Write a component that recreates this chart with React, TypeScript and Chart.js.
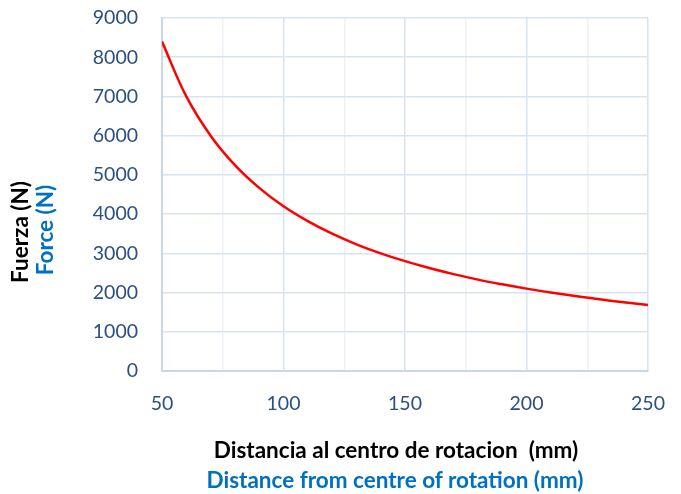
import React, { useEffect, useRef } from "react";
import { Chart, registerables } from "chart.js";

Chart.register(...registerables);

const distances = [50, 60, 70, 80, 90, 100, 110, 120, 130, 140, 150, 160, 170, 180, 190, 200, 210, 220, 230, 240, 250];
const forces = [8400, 7000, 6000, 5250, 4670, 4200, 3820, 3500, 3230, 3000, 2800, 2625, 2470, 2330, 2210, 2100, 2000, 1910, 1830, 1750, 1680];
const xTitleEs = "Distancia al centro de rotacion  (mm)";
const xTitleEn = "Distance from centre of rotation (mm)";
const yTitleEs = "Fuerza (N)";
const yTitleEn = "Force (N)";

const TICK_COLOR = "#2B4F81";
const GRID_COLOR = "#D9E4F2";
const MINOR_GRID_COLOR = "#EDF2F9";
const FONT = "Lato, 'Open Sans', sans-serif";

export default function App() {
  const ref = useRef<HTMLCanvasElement | null>(null);

  useEffect(() => {
    document.body.style.margin = "0";
    const ctx = ref.current!;
    const chart = new Chart(ctx, {
      type: "line",
      data: {
        datasets: [
          {
            data: distances.map((d, i) => ({ x: d, y: forces[i] })),
            borderColor: "#FF0000",
            borderWidth: 2.5,
            pointRadius: 0,
            tension: 0.4,
            fill: false,
          },
        ],
      },
      options: {
        animation: false,
        responsive: false,
        maintainAspectRatio: false,
        layout: { padding: { left: 0, top: 18, right: 33, bottom: 0 } },
        plugins: { legend: { display: false }, tooltip: { enabled: false } },
        scales: {
          x: {
            type: "linear",
            min: 50,
            max: 250,
            afterFit: (s: any) => {
              s.height = 123;
              s.paddingLeft = 0;
              s.paddingRight = 0;
            },
            ticks: {
              stepSize: 25,
              padding: 21,
              color: TICK_COLOR,
              font: { family: FONT, size: 19.5 },
              maxRotation: 0,
              autoSkip: false,
              callback: (v: any) => (Number(v) % 50 === 0 ? String(v) : ""),
            },
            grid: {
              color: (c: any) => (c.tick && c.tick.value % 50 !== 0 ? MINOR_GRID_COLOR : GRID_COLOR),
              lineWidth: 1.5,
              drawTicks: false,
            },
            border: { color: "#C8D7EB", width: 2 },
          },
          y: {
            min: 0,
            max: 9000,
            afterFit: (s: any) => {
              s.width = 162;
              s.paddingTop = 0;
              s.paddingBottom = 0;
            },
            ticks: {
              stepSize: 1000,
              padding: 24,
              color: TICK_COLOR,
              font: { family: FONT, size: 19.5 },
              callback: (v: any) => String(v),
            },
            grid: { color: GRID_COLOR, lineWidth: 1.5, drawTicks: false },
            border: { color: "#C8D7EB", width: 2 },
          },
        },
      },
    });
    return () => chart.destroy();
  }, []);

  const titleFont: React.CSSProperties = {
    fontFamily: FONT,
    fontWeight: 700,
    fontSize: 22.5,
    whiteSpace: "pre",
    position: "absolute",
    lineHeight: "28px",
  };

  return (
    <div style={{ position: "fixed", left: 0, top: 0, width: 681, height: 494, background: "#fff" }}>
      <canvas ref={ref} width={681} height={494} style={{ position: "absolute", left: 0, top: 0 }} />
      <div style={{ ...titleFont, left: 0, width: 792, textAlign: "center", top: 436, color: "#000" }}>{xTitleEs}</div>
      <div style={{ ...titleFont, left: 0, width: 790, textAlign: "center", top: 466, color: "#0070C0" }}>{xTitleEn}</div>
      <div
        style={{
          ...titleFont,
          left: 20,
          top: 232,
          transform: "translate(-50%, -50%) rotate(-90deg)",
          color: "#000",
        }}
      >
        {yTitleEs}
      </div>
      <div
        style={{
          ...titleFont,
          left: 45,
          top: 230,
          transform: "translate(-50%, -50%) rotate(-90deg)",
          color: "#0070C0",
        }}
      >
        {yTitleEn}
      </div>
    </div>
  );
}
